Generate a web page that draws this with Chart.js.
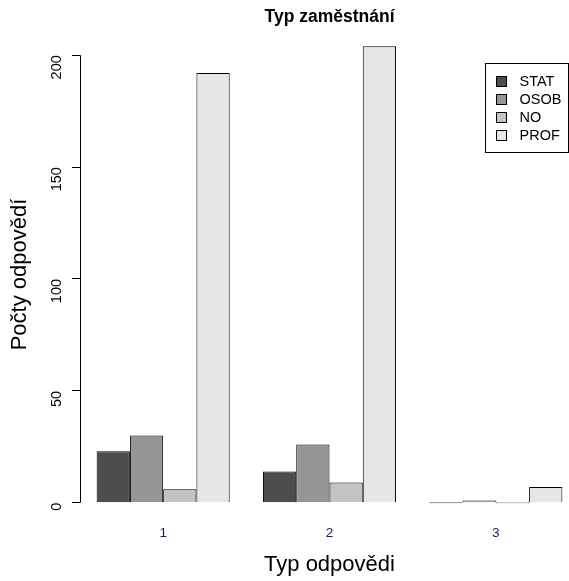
<!DOCTYPE html>
<html>
<head>
<meta charset="utf-8">
<script src="https://cdn.jsdelivr.net/npm/chart.js@4.4.1/dist/chart.umd.min.js"></script>
<style>
  html, body { margin: 0; padding: 0; background: #fff; overflow: hidden; }
  .chart-container { width: 569px; height: 581px; overflow: hidden; position: relative; }
  #chart { position: absolute; left: 0; top: 0; }
</style>
</head>
<body>
<div class="chart-container">
  <canvas id="chart" width="582" height="581"></canvas>
</div>
<script>
const categories = ['1', '2', '3']
const seriesNames = ['STAT', 'OSOB', 'NO', 'PROF']
const statValues = [23, 14, 0]
const osobValues = [30, 26, 1]
const noValues = [6, 9, 0]
const profValues = [192, 204, 7]
const yTicks = [0, 50, 100, 150, 200]

const barColors = ['#4D4D4D', '#969696', '#C3C3C3', '#E6E6E6']
const fontFamily = 'Liberation Sans, Arial, sans-serif'

const seriesValues = [statValues, osobValues, noValues, profValues]

// R-like axis line (only between first and last tick) and boxed legend
const rStylePlugin = {
  id: 'rStyle',
  afterDraw (chart) {
    const ctx = chart.ctx
    const y = chart.scales.y
    const area = chart.chartArea
    ctx.save()
    ctx.strokeStyle = '#000'
    ctx.lineWidth = 1
    ctx.beginPath()
    const x0 = Math.round(area.left) + 0.5
    ctx.moveTo(x0, y.getPixelForValue(yTicks[0]))
    ctx.lineTo(x0, y.getPixelForValue(yTicks[yTicks.length - 1]))
    ctx.stroke()

    // legend
    const boxLeft = 485.5
    const boxTop = 63.5
    const boxW = 83
    const boxH = 89
    ctx.strokeStyle = '#000'
    ctx.strokeRect(boxLeft, boxTop, boxW, boxH)
    ctx.font = '14.5px ' + fontFamily
    ctx.textBaseline = 'middle'
    ctx.textAlign = 'left'
    chart.data.datasets.forEach((ds, i) => {
      const cy = boxTop + 17 + i * 18.3
      ctx.fillStyle = ds.backgroundColor
      ctx.fillRect(boxLeft + 11, Math.round(cy - 5) + 0.5, 10, 10)
      ctx.strokeRect(boxLeft + 11, Math.round(cy - 5) + 0.5, 10, 10)
      ctx.fillStyle = '#000'
      ctx.fillText(ds.label, boxLeft + 34, cy + 1)
    })
    ctx.restore()
  }
}

const chartContainer = document.getElementById('chart')
const renderedChart = new Chart(chartContainer, {
  type: 'bar',
  data: {
    labels: categories,
    datasets: seriesNames.map((name, i) => ({
      label: name,
      data: seriesValues[i],
      backgroundColor: barColors[i],
      borderColor: '#000',
      borderWidth: 1,
      minBarLength: 1,
      categoryPercentage: 0.8,
      barPercentage: 1
    }))
  },
  options: {
    responsive: false,
    animation: false,
    layout: { padding: { left: 0, right: 3, top: 0, bottom: 0 } },
    plugins: {
      legend: { display: false },
      tooltip: { enabled: false },
      title: {
        display: true,
        fullSize: false,
        text: 'Typ zaměstnání',
        color: '#000',
        font: { family: fontFamily, size: 17.5, weight: 'bold' },
        padding: { top: 7, bottom: 0 }
      }
    },
    scales: {
      x: {
        grid: { display: false, drawTicks: false },
        border: { display: false },
        ticks: {
          color: '#1a1a55',
          font: { family: fontFamily, size: 13.5 },
          padding: 4
        },
        title: {
          display: true,
          text: 'Typ odpovědi',
          color: '#000',
          font: { family: fontFamily, size: 22 },
          padding: { top: 0, bottom: 3 }
        },
        afterFit (scale) { scale.height = 60 }
      },
      y: {
        min: -8.16,
        max: 212.16,
        afterBuildTicks (scale) {
          scale.ticks = yTicks.map(v => ({ value: v }))
        },
        grid: { display: true, drawOnChartArea: false, drawTicks: true, tickLength: 8, color: '#000' },
        border: { display: false },
        ticks: {
          color: '#000',
          font: { family: fontFamily, size: 14.5 },
          minRotation: 90,
          maxRotation: 90,
          padding: 15
        },
        title: {
          display: true,
          text: 'Počty odpovědí',
          color: '#000',
          font: { family: fontFamily, size: 22 },
          padding: { top: 7, bottom: 0 }
        },
        afterFit (scale) { scale.width = 80 }
      }
    }
  },
  plugins: [rStylePlugin]
})
</script>
</body>
</html>
